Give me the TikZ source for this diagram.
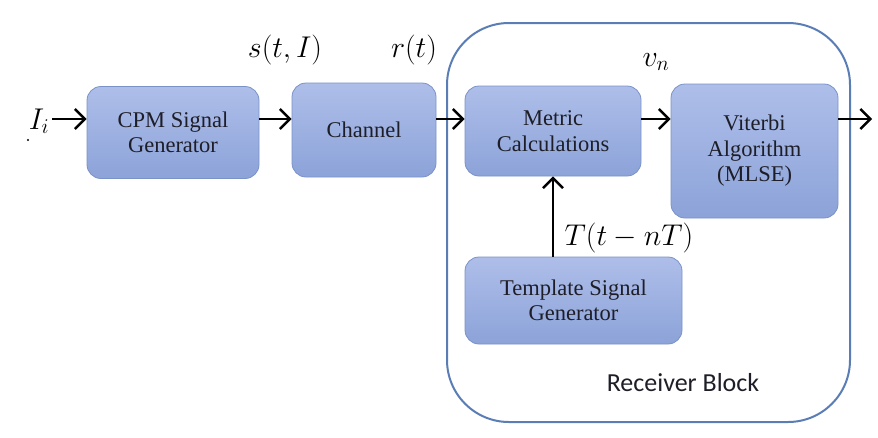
\RequirePackage{fix-cm}
\documentclass[tikz,border=0pt]{standalone}
\usepackage{fontspec}
\setmainfont{Liberation Serif}
\newfontfamily\labelsans{Carlito}
\usetikzlibrary{arrows.meta}

\definecolor{boxtop}{HTML}{AEBEE9}
\definecolor{boxbot}{HTML}{8CA3D9}
\definecolor{boxedge}{HTML}{7A92C8}
\definecolor{rxedge}{HTML}{5A7DB6}
\definecolor{boxtext}{HTML}{1E1E28}

\tikzset{
  block/.style={rounded corners=14pt, top color=boxtop, bottom color=boxbot,
    draw=boxedge, line width=0.8pt, align=center, text=boxtext,
    font=\fontsize{22.5}{25.5}\selectfont, inner sep=0pt},
  sig/.style={->, >={Straight Barb[length=10pt,width=20pt]}, line width=2.4pt},
  mlabel/.style={font=\fontsize{30}{33}\selectfont, inner sep=0pt}
}

\begin{document}
\begin{tikzpicture}[x=1pt,y=-1pt]
  \useasboundingbox (0,0) rectangle (878,437);

  % receiver enclosure
  \node[draw=rxedge, line width=2pt, rounded corners=62pt,
        minimum width=403pt, minimum height=399pt, inner sep=0pt]
        (rx) at (648.5,222.5) {};

  % processing blocks
  \node[block, minimum width=172pt, minimum height=92pt] (cpm) at (173,132.5)
       {CPM Signal\\Generator};
  \node[block, minimum width=144pt, minimum height=94pt] (chan) at (364,130)
       {Channel};
  \node[block, minimum width=176pt, minimum height=90pt] (met) at (553,131)
       {Metric\\Calculations};
  \node[block, minimum width=167pt, minimum height=134pt] (vit) at (754.5,151)
       {Viterbi\\Algorithm\\(MLSE)};
  \node[block, minimum width=217pt, minimum height=87pt] (tmpl) at (573.5,300.5)
       {Template Signal\\Generator};

  % signal labels
  \node[mlabel] (in) at (39,121) {$I_i$};
  \fill (28,140) circle (1.2pt);
  \node[mlabel] (slab) at (285,50) {$s(t,I)$};
  \node[mlabel] (rlab) at (414,50) {$r(t)$};
  \node[mlabel] (vlab) at (656,62) {$v_n$};
  \node[mlabel] (tlab) at (629,238) {$T(t-nT)$};
  \node[font=\labelsans\fontsize{26}{29}\selectfont, text=boxtext] (rxlab)
       at (683,383) {Receiver Block};

  % signal flow
  \coordinate (lane) at (0,119);
  \coordinate (out) at (872,119);
  \draw[sig] (in.east |- lane) ++(3,0) -- (cpm.west |- lane);
  \draw[sig] (cpm.east |- lane) -- (chan.west |- lane);
  \draw[sig] (chan.east |- lane) -- (met.west |- lane);
  \draw[sig] (met.east |- lane) -- (vit.west |- lane);
  \draw[sig] (vit.east |- lane) -- (out);
  \draw[sig] (tmpl.north -| met.south) -- (met.south);
\end{tikzpicture}
\end{document}
